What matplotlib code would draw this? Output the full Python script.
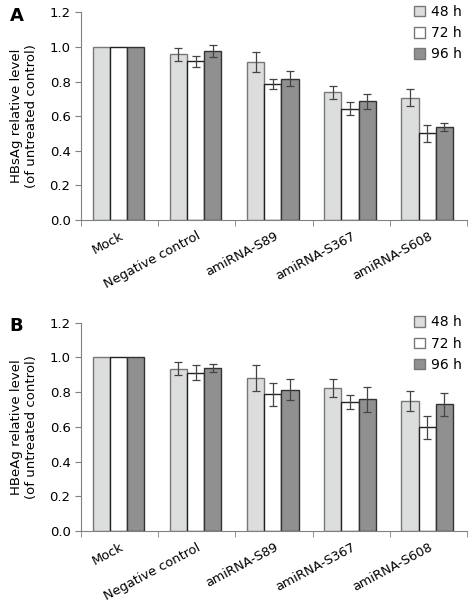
import numpy as np
import matplotlib
matplotlib.use("Agg")
import matplotlib.pyplot as plt

# data
groups = ["Mock", "Negative control", "amiRNA-S89", "amiRNA-S367", "amiRNA-S608"]
times = ["48 h", "72 h", "96 h"]

hbsag_48 = [1.0, 0.958, 0.912, 0.739, 0.708]
hbsag_72 = [1.0, 0.917, 0.789, 0.644, 0.502]
hbsag_96 = [1.0, 0.977, 0.818, 0.687, 0.537]
hbsag_48_err = [0, 0.036, 0.057, 0.038, 0.048]
hbsag_72_err = [0, 0.032, 0.029, 0.038, 0.049]
hbsag_96_err = [0, 0.032, 0.045, 0.043, 0.021]

hbeag_48 = [1.0, 0.934, 0.882, 0.824, 0.748]
hbeag_72 = [1.0, 0.912, 0.788, 0.744, 0.599]
hbeag_96 = [1.0, 0.939, 0.813, 0.759, 0.730]
hbeag_48_err = [0, 0.037, 0.075, 0.054, 0.058]
hbeag_72_err = [0, 0.042, 0.067, 0.042, 0.066]
hbeag_96_err = [0, 0.023, 0.061, 0.072, 0.067]

fills = ["#dcdedd", "#ffffff", "#909090"]
edges = ["#777777", "#222222", "#333333"]

plt.rcParams["font.family"] = "DejaVu Sans"
plt.rcParams["font.size"] = 9

fig = plt.figure(figsize=(4.72, 6.02), dpi=100)
axA = fig.add_axes([0.1716, 0.6346, 0.8178, 0.3447])
axB = fig.add_axes([0.1716, 0.1179, 0.8178, 0.3460])

x = np.arange(len(groups))
w = 0.223


def draw(ax, vals, errs, ylab, letter, leg_top):
    for i in range(3):
        pos = x + (i - 1) * w - 0.015
        ax.bar(pos, vals[i], w, color=fills[i], edgecolor=edges[i], linewidth=1.0,
               label=times[i], zorder=2)
        e = np.array(errs[i])
        m = e > 0
        ax.errorbar(pos[m], np.array(vals[i])[m], yerr=e[m], fmt="none",
                    ecolor="#444444", elinewidth=0.9, capsize=3, capthick=0.9, zorder=3)
    ax.set_xlim(-0.5, len(groups) - 0.5)
    ax.set_ylim(0, 1.2)
    ax.set_yticks(np.arange(0, 1.21, 0.2))
    ax.set_yticklabels(["%.1f" % v for v in np.arange(0, 1.21, 0.2)])
    ax.set_xticks(x)
    ax.set_xticklabels(groups, rotation=28, ha="right", rotation_mode="anchor")
    ax.tick_params(axis="x", which="major", length=0, pad=7)
    ax.set_xticks(np.arange(-0.5, len(groups)), minor=True)
    ax.tick_params(axis="x", which="minor", length=4, color="#808080")
    ax.tick_params(axis="y", length=4, color="#808080", labelsize=9.5)
    ax.tick_params(axis="x", labelsize=9.3)
    for s in ["top", "right"]:
        ax.spines[s].set_visible(False)
    for s in ["left", "bottom"]:
        ax.spines[s].set_color("#808080")
    ax.set_ylabel(ylab, fontsize=9.5, labelpad=8)
    handles, labels = ax.get_legend_handles_labels()
    leg = fig.legend(handles, labels, loc="upper left",
                     bbox_to_anchor=(414 / 472, leg_top), frameon=False,
                     fontsize=10, handlelength=0.8, handleheight=0.8,
                     handletextpad=0.45, labelspacing=0.52,
                     borderpad=0, borderaxespad=0)
    for p in leg.get_patches():
        p.set_edgecolor("#777777")
    ax.text(-0.185, 0.985, letter, transform=ax.transAxes, fontsize=13,
            fontweight="bold", va="center", ha="left")


draw(axA, [hbsag_48, hbsag_72, hbsag_96], [hbsag_48_err, hbsag_72_err, hbsag_96_err],
     "HBsAg relative level\n(of untreated control)", "A", 1 - 5 / 602)
draw(axB, [hbeag_48, hbeag_72, hbeag_96], [hbeag_48_err, hbeag_72_err, hbeag_96_err],
     "HBeAg relative level\n(of untreated control)", "B", 1 - 315.5 / 602)

fig.savefig("out.png", dpi=100)
